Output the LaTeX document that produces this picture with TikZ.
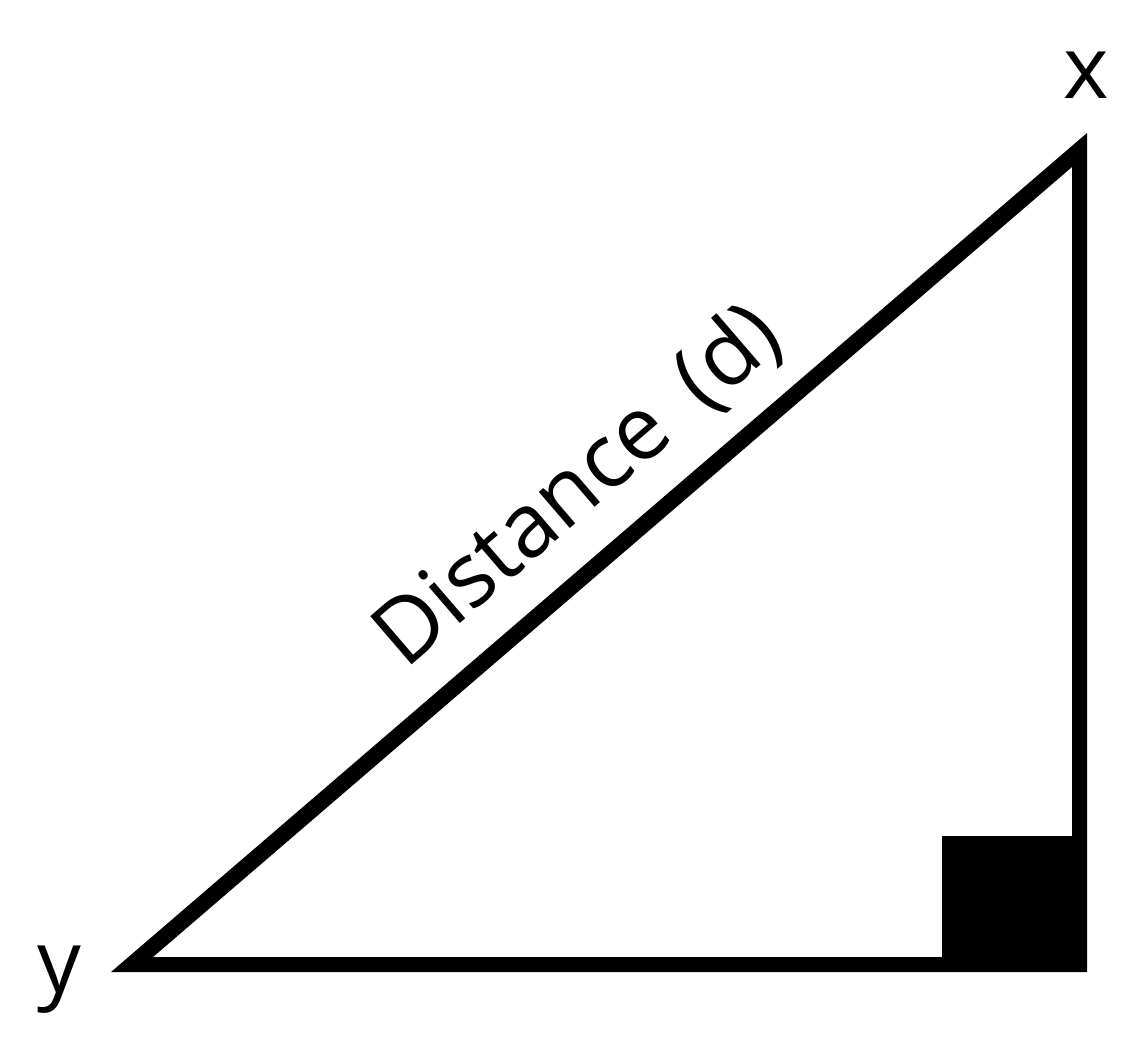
\documentclass[tikz,border=0pt]{standalone}
\usepackage{fontspec}
\setmainfont{Open Sans}
\begin{document}
\begin{tikzpicture}[x=1pt,y=-1pt,
  lbl/.style={inner sep=0pt,font=\fontsize{87}{100}\selectfont},
  dlbl/.style={inner sep=0pt,font=\fontsize{89}{100}\selectfont},
  edge/.style={fill=black,even odd rule}]
\useasboundingbox (0,0) rectangle (1134,1060);
% outer and inner corners of the thick triangle outline
\coordinate (oy) at (111,972);
\coordinate (oc) at (1087,972);
\coordinate (ox) at (1087,133);
\coordinate (iy) at (153,957);
\coordinate (ic) at (1072,957);
\coordinate (ix) at (1072,167);
\fill[edge] (oy) -- (oc) -- (ox) -- cycle (iy) -- (ic) -- (ix) -- cycle;
% right-angle marker
\coordinate (sq) at (942,836);
\fill[black] (sq) rectangle (oc);
% labels
\node[lbl,anchor=base] (xl) at (1086,98) {x};
\node[lbl,anchor=base] (yl) at (59,992) {y};
\node[dlbl,anchor=base west,rotate=40.68] (dl) at (405,671) {Distance\hspace{38pt}(d)};
\end{tikzpicture}
\end{document}
